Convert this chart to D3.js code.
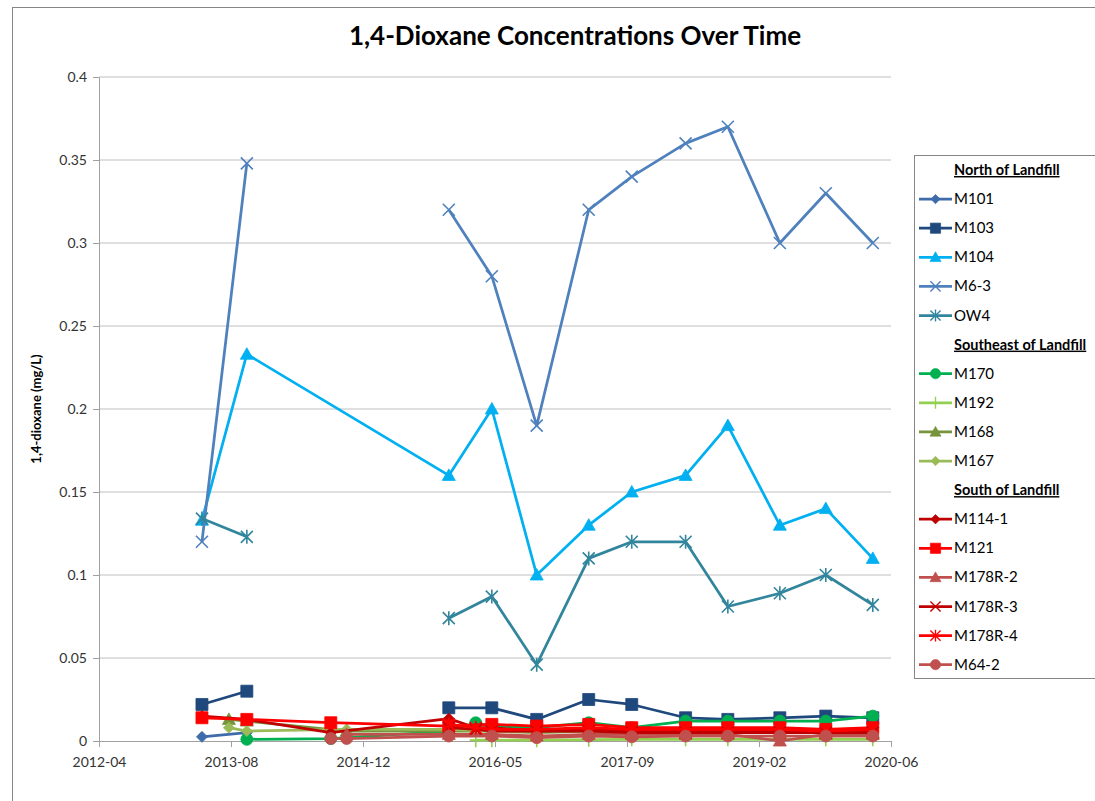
<!DOCTYPE html>
<html>
<head>
<meta charset="utf-8">
<script src="https://cdn.jsdelivr.net/npm/d3@7"></script>
<style>
  body { margin: 0; background: #fff; }
  svg { font-family: Lato, "Open Sans", sans-serif; }
</style>
</head>
<body>
<div id="chart"></div>
<script>
// sampling events for north wells (index 2 = round with no north data -> gap)
const northDates = ["2013-04-26", "2013-10-13", "2014-10-26", "2015-11-17", "2016-04-28",
  "2016-10-15", "2017-04-30", "2017-10-10", "2018-05-02", "2018-10-09", "2019-04-24",
  "2019-10-15", "2020-04-10"];
// sampling events for south / southeast wells
const southDates = ["2013-04-26", "2013-08-06", "2013-10-13", "2014-08-27", "2014-10-26",
  "2015-11-17", "2016-02-27", "2016-04-28", "2016-10-15", "2017-04-30", "2017-10-10",
  "2018-05-02", "2018-10-09", "2019-04-24", "2019-10-15", "2020-04-10"];

const M101 = [0.0025, 0.005, null, null, null, null, null, null, null, null, null, null, null];
const M103 = [0.022, 0.030, null, 0.020, 0.020, 0.013, 0.025, 0.022, 0.014, 0.013, 0.014, 0.015, 0.014];
const M104 = [0.133, 0.233, null, 0.16, 0.20, 0.10, 0.13, 0.15, 0.16, 0.19, 0.13, 0.14, 0.11];
const M6_3 = [0.12, 0.348, null, 0.32, 0.28, 0.19, 0.32, 0.34, 0.36, 0.37, 0.30, 0.33, 0.30];
const OW4 = [0.134, 0.123, null, 0.074, 0.087, 0.046, 0.11, 0.12, 0.12, 0.081, 0.089, 0.10, 0.082];

const M170 = [null, null, 0.001, 0.0015, null, 0.006, 0.011, 0.009, 0.008, 0.011, 0.008, 0.012, 0.012, 0.012, 0.012, 0.015];
const M192 = [null, null, null, null, null, null, 0.0005, 0.0005, 0.0005, 0.0008, 0.001, 0.001, 0.001, 0.001, 0.001, 0.001];
const M168 = [null, 0.013, 0.012, null, 0.006, 0.006, null, 0.006, 0.005, 0.006, 0.005, 0.005, 0.005, 0.005, 0.005, 0.005];
const M167 = [null, 0.008, 0.006, null, 0.007, 0.007, null, 0.006, 0.006, 0.007, 0.006, 0.006, 0.006, 0.006, 0.006, 0.006];

const M114_1 = [0.015, null, 0.013, 0.005, null, 0.0135, 0.008, 0.008, 0.006, 0.007, 0.006, 0.006, 0.006, 0.006, 0.006, 0.006];
const M121 = [0.014, null, 0.013, 0.011, null, 0.009, null, 0.010, 0.009, 0.010, 0.008, 0.008, 0.008, 0.008, 0.007, 0.008];
const M178R_2 = [null, null, null, null, 0.004, 0.004, null, 0.004, 0.003, 0.004, 0.004, 0.004, 0.004, 0.0, 0.004, 0.004];
const M178R_3 = [null, null, null, null, null, 0.008, 0.007, 0.006, 0.006, 0.006, 0.005, 0.005, 0.005, 0.005, 0.005, 0.005];
const M178R_4 = [null, null, null, null, null, 0.010, 0.008, 0.007, 0.007, 0.008, 0.007, 0.007, 0.007, 0.007, 0.006, 0.007];
const M64_2 = [null, null, null, 0.0015, 0.0015, 0.003, null, 0.003, 0.002, 0.003, 0.0025, 0.003, 0.003, 0.003, 0.003, 0.003];

const yTicks = [0, 0.05, 0.1, 0.15, 0.2, 0.25, 0.3, 0.35, 0.4];

// series whose blank cells break the line
const gapSeries = ["M101", "M103", "M6-3", "OW4"];

const groups = [
  { title: "North of Landfill", dates: northDates, series: [
    { name: "M101", values: M101, color: "#3E6BAA", marker: "diamond" },
    { name: "M103", values: M103, color: "#1F497D", marker: "square" },
    { name: "M104", values: M104, color: "#00B0F0", marker: "triangle" },
    { name: "M6-3", values: M6_3, color: "#4F81BD", marker: "x" },
    { name: "OW4", values: OW4, color: "#31859C", marker: "asterisk" }
  ]},
  { title: "Southeast of Landfill", dates: southDates, series: [
    { name: "M170", values: M170, color: "#00B050", marker: "circle" },
    { name: "M192", values: M192, color: "#92D050", marker: "plus" },
    { name: "M168", values: M168, color: "#77933C", marker: "triangle" },
    { name: "M167", values: M167, color: "#9BBB59", marker: "diamond" }
  ]},
  { title: "South of Landfill", dates: southDates, series: [
    { name: "M114-1", values: M114_1, color: "#C00000", marker: "diamond" },
    { name: "M121", values: M121, color: "#FF0000", marker: "square" },
    { name: "M178R-2", values: M178R_2, color: "#C0504D", marker: "triangle" },
    { name: "M178R-3", values: M178R_3, color: "#C00000", marker: "x" },
    { name: "M178R-4", values: M178R_4, color: "#FF0000", marker: "asterisk" },
    { name: "M64-2", values: M64_2, color: "#C0504D", marker: "circle" }
  ]}
];

const width = 1095, height = 801;
const plot = { left: 99, right: 891, top: 77, bottom: 741 };

const parse = d3.timeParse("%Y-%m-%d");
const xStart = parse("2012-04-01");
const x = d3.scaleTime()
  .domain([xStart, d3.timeDay.offset(xStart, 3000)])
  .range([plot.left, plot.right]);
const y = d3.scaleLinear().domain([0, 0.4]).range([plot.bottom, plot.top]);
const xTicks = d3.range(0, 3001, 500).map(n => d3.timeDay.offset(xStart, n));

const svg = d3.select("#chart").append("svg")
  .attr("width", width).attr("height", height);

// chart area border
svg.append("rect").attr("x", 12.5).attr("y", 7.5).attr("width", 1100).attr("height", 800)
  .attr("fill", "#fff").attr("stroke", "#868686");

svg.append("text")
  .attr("x", 575).attr("y", 45)
  .attr("text-anchor", "middle")
  .attr("font-size", 26).attr("font-weight", "bold")
  .text("1,4-Dioxane Concentrations Over Time");

// gridlines
svg.append("g").selectAll("line")
  .data(yTicks.slice(1))
  .join("line")
  .attr("x1", plot.left).attr("x2", plot.right)
  .attr("y1", d => y(d)).attr("y2", d => y(d))
  .attr("stroke", "#C0C0C0").attr("stroke-width", 1);

const yAxis = svg.append("g")
  .attr("transform", `translate(${plot.left},0)`)
  .call(d3.axisLeft(y).tickValues(yTicks).tickSize(6).tickPadding(6).tickFormat(d3.format("")));
const xAxis = svg.append("g")
  .attr("transform", `translate(0,${plot.bottom})`)
  .call(d3.axisBottom(x).tickValues(xTicks).tickSize(6).tickPadding(10).tickFormat(d3.timeFormat("%Y-%m")));
[xAxis, yAxis].forEach(a => {
  a.selectAll("path, line").attr("stroke", "#A0A0A0");
  a.selectAll("text").attr("font-size", 14).attr("fill", "#333").attr("font-family", "Lato, sans-serif");
});

svg.append("text")
  .attr("transform", `translate(41,${(plot.top + plot.bottom) / 2}) rotate(-90)`)
  .attr("text-anchor", "middle")
  .attr("font-size", 13).attr("font-weight", "bold")
  .text("1,4-dioxane (mg/L)");

function markerPath(type) {
  switch (type) {
    case "diamond": return "M0,-5.5L5.5,0L0,5.5L-5.5,0Z";
    case "square": return "M-6,-6H6V6H-6Z";
    case "triangle": return "M0,-6.5L6.5,5L-6.5,5Z";
    case "circle": return d3.symbol(d3.symbolCircle, 113)();
    case "x": return "M-6,-6L6,6M-6,6L6,-6";
    case "asterisk": return "M-6,-6L6,6M-6,6L6,-6M0,-7V7";
    case "plus": return "M-6,0H6M0,-7V7";
  }
}
const stroked = t => t === "x" || t === "asterisk" || t === "plus";

function drawMarker(g, s) {
  g.append("path")
    .attr("d", markerPath(s.marker))
    .attr("fill", stroked(s.marker) ? "none" : s.color)
    .attr("stroke", s.color)
    .attr("stroke-width", stroked(s.marker) ? 1.6 : 0.8);
}

const plotG = svg.append("g");
groups.forEach(grp => {
  grp.series.forEach(s => {
    let pts = grp.dates.map((d, i) => ({ date: parse(d), v: s.values[i] }));
    if (!gapSeries.includes(s.name)) pts = pts.filter(p => p.v != null);
    const line = d3.line().defined(p => p.v != null).x(p => x(p.date)).y(p => y(p.v));
    const g = plotG.append("g");
    g.append("path").datum(pts)
      .attr("d", line)
      .attr("fill", "none")
      .attr("stroke", s.color)
      .attr("stroke-width", 2.75)
      .attr("stroke-linejoin", "round");
    pts.filter(p => p.v != null).forEach(p => {
      const m = g.append("g").attr("transform", `translate(${x(p.date)},${y(p.v)})`);
      drawMarker(m, s);
    });
  });
});

// legend
const legend = svg.append("g");
legend.append("rect").attr("x", 914.5).attr("y", 155.5).attr("width", 200).attr("height", 523)
  .attr("fill", "#fff").attr("stroke", "#868686");
const rows = [];
groups.forEach(grp => {
  rows.push({ header: grp.title });
  grp.series.forEach(s => rows.push(s));
});
rows.forEach((r, i) => {
  const ry = 170 + i * 29.1;
  if (r.header) {
    legend.append("text")
      .attr("x", 954).attr("y", ry + 5)
      .attr("font-size", 14.5).attr("font-weight", "bold")
      .attr("text-decoration", "underline")
      .text(r.header);
  } else {
    legend.append("line")
      .attr("x1", 919).attr("x2", 952).attr("y1", ry).attr("y2", ry)
      .attr("stroke", r.color).attr("stroke-width", 2.75);
    const m = legend.append("g").attr("transform", `translate(935.5,${ry}) scale(0.85)`);
    drawMarker(m, r);
    legend.append("text")
      .attr("x", 954).attr("y", ry + 5)
      .attr("font-size", 15)
      .text(r.name);
  }
});
</script>
</body>
</html>
